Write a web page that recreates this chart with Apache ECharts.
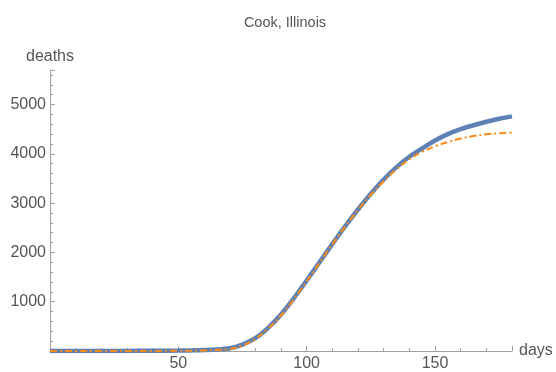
<!DOCTYPE html>
<html>
<head>
<meta charset="utf-8">
<script src="https://cdn.jsdelivr.net/npm/echarts@6/dist/echarts.min.js"></script>
<style>html,body{margin:0;padding:0;background:#fff}#c{width:556px;height:372px}</style>
</head>
<body>
<div id="c"></div>
<script>
const days = [0,10,20,30,40,50,55,60,65,70,75,80,85,90,95,100,105,110,115,120,125,130,135,140,145,150,155,160,165,170,175,180];
const deaths = [0,0,1,2,4,8,12,18,30,55,130,260,470,740,1070,1430,1800,2170,2530,2870,3190,3480,3730,3940,4110,4270,4400,4500,4580,4650,4710,4760];
const fitted = [0,0,0,1,2,4,7,12,20,40,110,250,460,725,1050,1415,1790,2165,2525,2860,3170,3445,3685,3890,4040,4150,4240,4310,4360,4395,4415,4430];
const xTickLabels = [50,100,150];
const yTickLabels = [1000,2000,3000,4000,5000];

const chart = echarts.init(document.getElementById('c'));
const font = 'Liberation Sans, Arial, sans-serif';
const axisCol = '#a0a0a0';
const labelCol = '#555';
chart.setOption({
  animation: false,
  title: {text: 'Cook, Illinois', left: 280, top: 10, textAlign: 'center',
    textStyle: {fontFamily: font, fontSize: 14.5, fontWeight: 'normal', color: '#555'}},
  grid: {left: 50, right: 44, top: 70, bottom: 19, containLabel: false},
  xAxis: {type: 'value', min: 0, max: 180, interval: 50,
    name: 'days', nameLocation: 'end', nameGap: 7,
    nameTextStyle: {fontFamily: font, fontSize: 16, color: labelCol, verticalAlign: 'middle'},
    axisLine: {show: true, onZero: false, lineStyle: {color: axisCol, width: 1}},
    axisTick: {show: true, inside: true, length: 5, lineStyle: {color: axisCol}},
    minorTick: {show: true, splitNumber: 5, length: 3, lineStyle: {color: axisCol}},
    splitLine: {show: false},
    axisLabel: {fontFamily: font, fontSize: 16, color: labelCol, margin: 5,
      formatter: v => xTickLabels.includes(v) ? String(v) : ''}
  },
  yAxis: {type: 'value', min: 0, max: 5700, interval: 1000,
    name: 'deaths', nameLocation: 'end', nameGap: 5,
    nameTextStyle: {fontFamily: font, fontSize: 16, color: labelCol, align: 'center'},
    axisLine: {show: true, onZero: false, lineStyle: {color: axisCol, width: 1}},
    axisTick: {show: true, inside: true, length: 5, lineStyle: {color: axisCol}},
    minorTick: {show: true, splitNumber: 5, length: 3, lineStyle: {color: axisCol}},
    splitLine: {show: false},
    axisLabel: {fontFamily: font, fontSize: 16, color: labelCol, margin: 4,
      formatter: v => yTickLabels.includes(v) ? String(v) : ''}
  },
  series: [
    {type: 'line', data: days.map((d,i)=>[d, deaths[i]]), smooth: 0.4, showSymbol: false,
      lineStyle: {color: '#5E81B5', width: 4.5}, z: 2},
    {type: 'line', data: days.map((d,i)=>[d, fitted[i]]), smooth: 0.4, showSymbol: false,
      lineStyle: {color: '#FA8C16', width: 2, type: [7,3,2,3]}, z: 3}
  ]
});
</script>
</body>
</html>
